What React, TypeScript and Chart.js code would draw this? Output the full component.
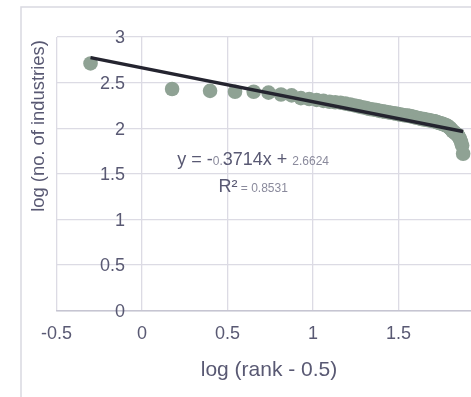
import { useEffect, useRef } from "react";
import { Chart, registerables } from "chart.js";

Chart.register(...registerables);

// log (rank - 0.5)
const rankLogX = [
  -0.301, 0.176, 0.398, 0.544, 0.653, 0.74, 0.813, 0.875, 0.929, 0.978,
  1.021, 1.061, 1.097, 1.13, 1.161, 1.19, 1.218, 1.243, 1.267, 1.29,
  1.312, 1.332, 1.352, 1.371, 1.389, 1.407, 1.423, 1.439, 1.455, 1.47,
  1.484, 1.498, 1.512, 1.525, 1.538, 1.55, 1.562, 1.574, 1.586, 1.597,
  1.607, 1.618, 1.628, 1.638, 1.648, 1.658, 1.667, 1.677, 1.686, 1.695,
  1.703, 1.712, 1.72, 1.728, 1.736, 1.744, 1.752, 1.76, 1.767, 1.775,
  1.782, 1.789, 1.796, 1.803, 1.81, 1.816, 1.823, 1.829, 1.836, 1.842,
  1.848, 1.854, 1.86, 1.866, 1.872, 1.878,
];

// log (no. of industries)
const industryLogY = [
  2.71, 2.43, 2.41, 2.4, 2.4, 2.39, 2.37, 2.36, 2.33, 2.32,
  2.31, 2.3, 2.29, 2.285, 2.28, 2.27, 2.26, 2.25, 2.24, 2.23,
  2.22, 2.21, 2.205, 2.2, 2.19, 2.185, 2.18, 2.175, 2.17, 2.165,
  2.16, 2.155, 2.15, 2.145, 2.14, 2.14, 2.135, 2.13, 2.125, 2.12,
  2.115, 2.11, 2.105, 2.1, 2.1, 2.095, 2.09, 2.09, 2.085, 2.08,
  2.08, 2.075, 2.07, 2.065, 2.06, 2.055, 2.05, 2.045, 2.04, 2.035,
  2.03, 2.02, 2.01, 2.0, 1.985, 1.97, 1.96, 1.95, 1.94, 1.93,
  1.92, 1.9, 1.88, 1.85, 1.81, 1.72,
];

const xTicks = [-0.5, 0, 0.5, 1, 1.5];
const xTickLabels = ["-0.5", "0", "0.5", "1", "1.5"];
const yTicks = [0, 0.5, 1, 1.5, 2, 2.5, 3];
const yTickLabels = ["0", "0.5", "1", "1.5", "2", "2.5", "3"];

const trendSlope = -0.3714;
const trendIntercept = 2.6624;

const xTitle = "log (rank - 0.5)";
const yTitle = "log (no. of industries)";

// equation label pieces: [text, isBig]
const eqLine1: [string, boolean][] = [
  ["y = -", true],
  ["0.", false],
  ["3714x + ", true],
  ["2.6624", false],
];
const eqLine2: [string, boolean][] = [
  ["R\u00b2", true],
  [" = 0.8531", false],
];

export default function App() {
  const ref = useRef<HTMLCanvasElement>(null);

  useEffect(() => {
    const canvas = ref.current;
    if (!canvas) return;
    const textColor = "#595973";
    const lightText = "#8a8a9c";
    const fam = "'Liberation Sans', Arial, sans-serif";

    const points = rankLogX.map((x, i) => ({ x, y: industryLogY[i] }));
    const x0 = rankLogX[0];
    const x1 = rankLogX[rankLogX.length - 1];
    const trend = [
      { x: x0, y: trendSlope * x0 + trendIntercept },
      { x: x1, y: trendSlope * x1 + trendIntercept },
    ];

    const drawPieces = (ctx: CanvasRenderingContext2D, pieces: [string, boolean][], cx: number, baseY: number) => {
      let total = 0;
      const widths = pieces.map(([t, big]) => {
        ctx.font = `${big ? 18 : 12}px ${fam}`;
        const w = ctx.measureText(t).width;
        total += w;
        return w;
      });
      let x = cx - total / 2;
      pieces.forEach(([t, big], i) => {
        ctx.font = `${big ? 18 : 12}px ${fam}`;
        ctx.fillStyle = big ? textColor : lightText;
        ctx.fillText(t, x, baseY);
        x += widths[i];
      });
    };

    const decor = {
      id: "decor",
      beforeDraw(chart: any) {
        const ctx = chart.ctx as CanvasRenderingContext2D;
        ctx.save();
        ctx.strokeStyle = "#d9d9e1";
        ctx.lineWidth = 1.5;
        ctx.beginPath();
        ctx.moveTo(21, chart.height + 5);
        ctx.lineTo(21, 7);
        ctx.lineTo(chart.width + 5, 7);
        ctx.stroke();
        ctx.restore();
      },
      afterDraw(chart: any) {
        const ctx = chart.ctx as CanvasRenderingContext2D;
        const { chartArea } = chart;
        const xs = chart.scales.x;
        const ys = chart.scales.y;
        ctx.save();
        ctx.fillStyle = textColor;
        ctx.font = `18px ${fam}`;
        ctx.textBaseline = "alphabetic";
        ctx.textAlign = "right";
        const yLabelRight = xs.getPixelForValue(0) - 17;
        yTicks.forEach((v, i) => {
          ctx.fillText(yTickLabels[i], yLabelRight, ys.getPixelForValue(v) + 6.3);
        });
        ctx.textAlign = "center";
        xTicks.forEach((v, i) => {
          ctx.fillText(xTickLabels[i], xs.getPixelForValue(v), chartArea.bottom + 28.6);
        });

        // axis titles
        ctx.font = `21px ${fam}`;
        ctx.fillText(xTitle, chartArea.left + 212.5, chartArea.bottom + 65);
        ctx.save();
        ctx.font = `18.4px ${fam}`;
        ctx.translate(chartArea.left - 12.5, chartArea.top + 89);
        ctx.rotate(-Math.PI / 2);
        ctx.textAlign = "center";
        ctx.fillText(yTitle, 0, 0);
        ctx.restore();

        // equation
        ctx.textAlign = "left";
        const eqX = xs.getPixelForValue(0.65);
        drawPieces(ctx, eqLine1, eqX, ys.getPixelForValue(1.598));
        drawPieces(ctx, eqLine2, eqX, ys.getPixelForValue(1.298));
        ctx.restore();
      },
    };

    const chart = new Chart(canvas, {
      type: "scatter",
      data: {
        datasets: [
          {
            type: "line",
            data: trend,
            borderColor: "#24242f",
            borderWidth: 3.5,
            pointRadius: 0,
            fill: false,
            order: 1,
          } as any,
          {
            type: "scatter",
            data: points,
            backgroundColor: "#8fa294",
            borderWidth: 0,
            pointRadius: 7.3,
            order: 2,
          } as any,
        ],
      },
      options: {
        animation: false,
        responsive: false,
        maintainAspectRatio: false,
        layout: { autoPadding: false, padding: { left: 56.5, top: 37, right: 0, bottom: 86.3 } },
        plugins: { legend: { display: false }, tooltip: { enabled: false } },
        scales: {
          x: {
            type: "linear",
            min: -0.5,
            max: 1.924,
            afterBuildTicks: (s: any) => {
              s.ticks = xTicks.map((v) => ({ value: v }));
            },
            ticks: { display: false },
            grid: { color: "#dcdbe4", lineWidth: 1.3, drawTicks: false },
            border: { display: true, color: "#c6c5d2", width: 1.6 },
          },
          y: {
            type: "linear",
            min: 0,
            max: 3,
            afterBuildTicks: (s: any) => {
              s.ticks = yTicks.map((v) => ({ value: v }));
            },
            ticks: { display: false },
            grid: { color: "#dcdbe4", lineWidth: 1.3, drawTicks: false },
            border: { display: false },
          },
        },
      } as any,
      plugins: [decor],
    });
    return () => chart.destroy();
  }, []);

  return (
    <div style={{ position: "fixed", left: 0, top: 0, width: 471, height: 397, background: "#fff" }}>
      <canvas ref={ref} width={471} height={397} style={{ display: "block" }} />
    </div>
  );
}
